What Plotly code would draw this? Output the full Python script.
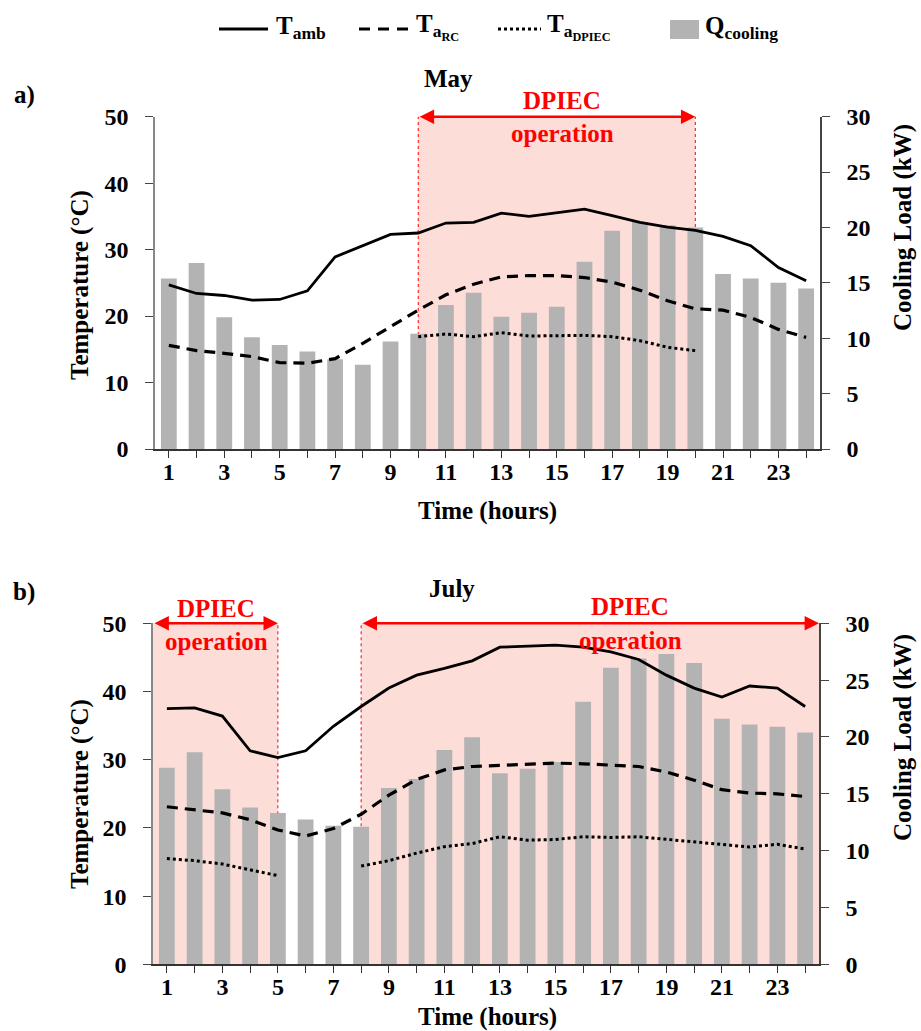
import plotly.graph_objects as go

hours = list(range(1, 25))
tick_text = [str(h) if h % 2 == 1 else "" for h in hours]

# May
may_tamb = [24.7, 23.4, 23.1, 22.4, 22.5, 23.8, 28.9, 30.6, 32.3, 32.5, 34.0, 34.1,
            35.5, 35.0, 35.6, 36.1, 35.1, 34.1, 33.4, 32.9, 32.0, 30.6, 27.3, 25.3]
may_tarc = [15.6, 14.8, 14.4, 13.9, 13.0, 12.9, 13.6, 15.9, 18.4, 20.9, 23.2, 24.8,
            25.9, 26.1, 26.1, 25.8, 25.1, 23.9, 22.3, 21.1, 20.9, 19.8, 18.0, 16.8]
may_tadpiec = [None] * 9 + [16.9, 17.3, 16.9, 17.5, 17.0, 17.1, 17.1, 16.9, 16.3, 15.3, 14.8] + [None] * 4
may_q = [15.4, 16.8, 11.9, 10.1, 9.4, 8.8, 8.1, 7.6, 9.7, 10.4, 13.0, 14.1,
         11.95, 12.3, 12.85, 16.9, 19.7, 20.5, 20.2, 20.0, 15.8, 15.4, 15.0, 14.5]

# July
jul_tamb = [37.5, 37.6, 36.4, 31.3, 30.3, 31.3, 34.9, 37.8, 40.5, 42.4, 43.4, 44.5,
            46.5, 46.7, 46.8, 46.5, 45.8, 44.7, 42.4, 40.5, 39.2, 40.8, 40.5, 37.8]
jul_tarc = [23.1, 22.6, 22.2, 21.2, 19.7, 18.8, 19.9, 22.0, 24.8, 27.1, 28.5, 29.0,
            29.2, 29.4, 29.5, 29.4, 29.2, 29.0, 28.2, 27.0, 25.6, 25.1, 25.0, 24.6]
jul_tadpiec = [15.5, 15.2, 14.7, 13.9, 13.0, None, None, 14.4, 15.2, 16.3, 17.25, 17.7,
               18.7, 18.2, 18.3, 18.7, 18.6, 18.7, 18.3, 18.0, 17.6, 17.2, 17.6, 16.9]
jul_q = [17.3, 18.65, 15.4, 13.8, 13.3, 12.75, 12.2, 12.1, 15.5, 16.3, 18.85, 19.97,
         16.8, 17.2, 17.8, 23.1, 26.1, 26.9, 27.3, 26.5, 21.6, 21.1, 20.9, 20.4]

# DPIEC operation windows (start hour, end hour)
may_windows = [(10, 20)]
jul_windows = [(0.5, 5), (8, 24.5)]

legend_names = ["T<sub>amb</sub>", "T<sub>a<sub>RC</sub></sub>",
                "T<sub>a<sub>DPIEC</sub></sub>", "Q<sub>cooling</sub>"]

FONT = "Liberation Serif"
RED = "#FF0000"
PINK = "#FDDDD8"
BAR = "#B3B3B3"
W, H = 921, 1031


def px_x(p):
    return p / W


def px_y(p):
    return 1 - p / H


fig = go.Figure()

panels = [
    dict(x="x", yq="y", yt="y2", tamb=may_tamb, tarc=may_tarc, tdp=may_tadpiec, q=may_q),
    dict(x="x2", yq="y3", yt="y4", tamb=jul_tamb, tarc=jul_tarc, tdp=jul_tadpiec, q=jul_q),
]

for p in panels:
    fig.add_trace(go.Bar(x=hours, y=p["q"], xaxis=p["x"], yaxis=p["yq"], width=0.57,
                         marker=dict(color=BAR, line=dict(width=0)),
                         name=legend_names[3], showlegend=False))
    fig.add_trace(go.Scatter(x=hours, y=p["tamb"], xaxis=p["x"], yaxis=p["yt"], mode="lines",
                             line=dict(color="black", width=2.8), name=legend_names[0],
                             showlegend=False))
    fig.add_trace(go.Scatter(x=hours, y=p["tarc"], xaxis=p["x"], yaxis=p["yt"], mode="lines",
                             line=dict(color="black", width=3.2, dash="11px,7px"),
                             name=legend_names[1], showlegend=False))
    fig.add_trace(go.Scatter(x=hours, y=p["tdp"], xaxis=p["x"], yaxis=p["yt"], mode="lines",
                             line=dict(color="black", width=3, dash="dot"), connectgaps=False,
                             name=legend_names[2], showlegend=False))

tickfont = dict(family=FONT, size=24, color="black", weight="bold")

xa_common = dict(range=[0.5, 24.5], tickvals=hours, ticktext=tick_text, showgrid=False,
                 zeroline=False, showline=True, linecolor="#333", linewidth=1.5,
                 ticks="outside", ticklen=7, tickcolor="#333", tickfont=tickfont,
                 ticklabelstandoff=-7, automargin=False)
yq_common = dict(range=[0, 30], tickvals=[0, 5, 10, 15, 20, 25, 30], side="right",
                 showgrid=False, zeroline=False, showline=True, linecolor="#444", linewidth=1.5,
                 ticks="outside", ticklen=8, tickcolor="#444", tickfont=tickfont,
                 ticklabelstandoff=12, automargin=False)
yt_common = dict(range=[0, 50], tickvals=[0, 10, 20, 30, 40, 50], side="left",
                 showgrid=False, zeroline=False, showline=True, linecolor="#888", linewidth=1.5,
                 ticks="outside", ticklen=8, tickcolor="#444", tickfont=tickfont,
                 ticklabelstandoff=12, automargin=False)

fig.update_layout(
    xaxis=dict(domain=[px_x(155), px_x(820)], anchor="y", **xa_common),
    yaxis=dict(domain=[px_y(449), px_y(116.7)], anchor="x", **yq_common),
    yaxis2=dict(overlaying="y", anchor="x", **yt_common),
    xaxis2=dict(domain=[px_x(153), px_x(819)], anchor="y3", **xa_common),
    yaxis3=dict(domain=[px_y(964.3), px_y(623.3)], anchor="x2", **yq_common),
    yaxis4=dict(overlaying="y3", anchor="x2", **yt_common),
)

shapes = []
annotations = []


def add_window(xref, ytref, tdomref, x0, x1):
    shapes.append(dict(type="rect", xref=xref, yref=tdomref, x0=x0, x1=x1, y0=0, y1=1,
                       fillcolor=PINK, line=dict(width=0), layer="below"))
    for xv in (x0, x1):
        if xv in (0.5, 24.5):
            continue
        shapes.append(dict(type="line", xref=xref, yref=tdomref, x0=xv, x1=xv, y0=0, y1=1,
                           line=dict(color=RED, width=1, dash="dot"), layer="below"))
    annotations.append(dict(x=x1, y=50, ax=x0, ay=50, xref=xref, yref=ytref, axref=xref,
                            ayref=ytref, text="", showarrow=True, arrowside="end+start",
                            arrowhead=2, arrowsize=1.2, arrowwidth=2.4, arrowcolor=RED))


for (a, b) in may_windows:
    add_window("x", "y2", "y2 domain", a, b)
for (a, b) in jul_windows:
    add_window("x2", "y4", "y4 domain", a, b)

redfont = dict(family=FONT, size=25, color=RED, weight="bold")
blackfont = dict(family=FONT, size=24, color="black", weight="bold")
titlefont = dict(family=FONT, size=25, color="black", weight="bold")
legfont = dict(family=FONT, size=25, color="black", weight="bold")


def txt(x, y, text, font, angle=0, xanchor="center"):
    annotations.append(dict(x=px_x(x), y=px_y(y), xref="paper", yref="paper", text=text,
                            showarrow=False, font=font, textangle=angle,
                            xanchor=xanchor, yanchor="middle"))


# operation labels
txt(562, 100, "DPIEC", redfont)
txt(562, 133, "operation", redfont)
txt(216, 608, "DPIEC", redfont)
txt(216, 641, "operation", redfont)
txt(630, 606, "DPIEC", redfont)
txt(630, 640, "operation", redfont)

# titles and labels
txt(448, 79, "May", titlefont)
txt(452, 588, "July", titlefont)
txt(24, 95, "a)", titlefont)
txt(24, 592, "b)", titlefont)
txt(80, 285, "Temperature (°C)", titlefont, -90)
txt(80, 794, "Temperature (°C)", titlefont, -90)
txt(903, 228, "Cooling Load (kW)", titlefont, -90)
txt(903, 738, "Cooling Load (kW)", titlefont, -90)
txt(487, 511, "Time (hours)", titlefont)
txt(487, 1017, "Time (hours)", titlefont)

# legend (drawn manually)
leg_y = 29
shapes.append(dict(type="line", xref="paper", yref="paper", x0=px_x(219), x1=px_x(268),
                   y0=px_y(leg_y), y1=px_y(leg_y), line=dict(color="black", width=3)))
shapes.append(dict(type="line", xref="paper", yref="paper", x0=px_x(359), x1=px_x(411),
                   y0=px_y(leg_y), y1=px_y(leg_y), line=dict(color="black", width=3.2, dash="11px,8px")))
shapes.append(dict(type="line", xref="paper", yref="paper", x0=px_x(498), x1=px_x(541),
                   y0=px_y(leg_y), y1=px_y(leg_y), line=dict(color="black", width=3, dash="dot")))
shapes.append(dict(type="rect", xref="paper", yref="paper", x0=px_x(670), x1=px_x(699),
                   y0=px_y(39), y1=px_y(20), fillcolor=BAR, line=dict(width=0)))
txt(274, 27, legend_names[0], legfont, xanchor="left")
txt(414, 27, legend_names[1], legfont, xanchor="left")
txt(545, 27, legend_names[2], legfont, xanchor="left")
txt(703, 27, legend_names[3], legfont, xanchor="left")

fig.update_layout(
    shapes=shapes,
    annotations=annotations,
    width=W, height=H,
    margin=dict(l=0, r=0, t=0, b=0, autoexpand=False),
    paper_bgcolor="white", plot_bgcolor="rgba(0,0,0,0)",
    barmode="overlay",
    showlegend=False,
    font=dict(family=FONT, color="black"),
)

fig.write_html("out.html")
